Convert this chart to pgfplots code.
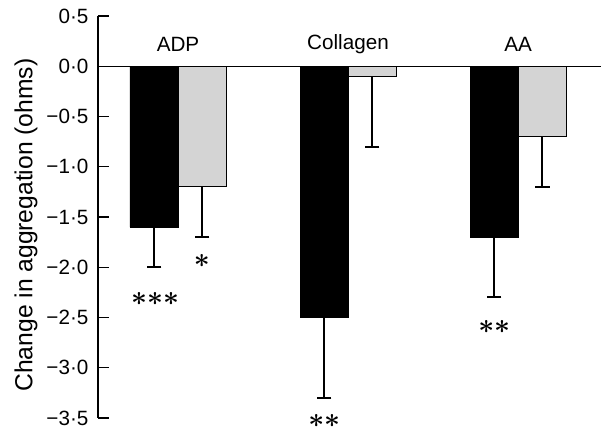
\documentclass[border=0pt]{standalone}
\usepackage{pgfplots}
\pgfplotsset{compat=1.18}
\usepackage{fontspec}
\setmainfont{Liberation Sans}
\usetikzlibrary{calc}
\tikzset{tl/.style={anchor=east, xshift=-7pt, font=\fontsize{15.5}{17}\selectfont, inner sep=0pt}}
\begin{document}
\begin{tikzpicture}[x=1pt,y=1pt]
\begin{axis}[
  name=ax,
  scale only axis,
  width=377.25pt, height=301.5pt,
  xmin=0.5294, xmax=3.488,
  ymin=-3.5, ymax=0.5,
  axis y line*=left,
  x axis line style={draw=none},
  xtick=\empty,
  ytick={-3.5,-3,-2.5,-2,-1.5,-1,-0.5,0,0.5},
  yticklabels={},
  ytick align=inside,
  major tick length=8pt,
  tick style={line width=1pt, black},
  y axis line style={line width=1pt},
  extra y ticks={0},
  extra y tick labels={},
  extra y tick style={major tick length=0pt, grid=major, major grid style={black, line width=1pt}},
  ylabel={Change in aggregation (ohms)},
  ylabel style={font=\fontsize{18.5}{20}\selectfont, at={(axis description cs:-0.143,0.48)}, anchor=center, rotate=0},
  ybar, bar width=0.2824, bar shift=0pt,
  clip=false,
]
\addplot[fill=black, draw=black,
  error bars/.cd, y dir=minus, y explicit,
  error bar style={line width=1.4pt},
  error mark options={rotate=90, mark size=5.6pt, line width=1.4pt}]
  coordinates {
  (0.8588,-1.6) -= (0,0.4)
  (1.8588,-2.5) -= (0,0.8)
  (2.8588,-1.7) -= (0,0.6)
};
\addplot[fill=black!17, draw=black, line width=0.6pt,
  error bars/.cd, y dir=minus, y explicit,
  error bar style={line width=1.4pt},
  error mark options={rotate=90, mark size=5.6pt, line width=1.4pt}]
  coordinates {
  (1.1412,-1.2) -= (0,0.5)
  (2.1412,-0.1) -= (0,0.7)
  (3.1412,-0.7) -= (0,0.5)
};
\node[tl] at (axis cs:0.5294,0.5) {0·5};
\node[tl] at (axis cs:0.5294,0) {0·0};
\node[tl] at (axis cs:0.5294,-0.5) {−0·5};
\node[tl] at (axis cs:0.5294,-1) {−1·0};
\node[tl] at (axis cs:0.5294,-1.5) {−1·5};
\node[tl] at (axis cs:0.5294,-2) {−2·0};
\node[tl] at (axis cs:0.5294,-2.5) {−2·5};
\node[tl] at (axis cs:0.5294,-3) {−3·0};
\node[tl] at (axis cs:0.5294,-3.5) {−3·5};
\node[font=\fontsize{15.5}{17}\selectfont] at (axis cs:1,0.22) {ADP};
\node[font=\fontsize{15.5}{17}\selectfont] at (axis cs:2,0.22) {Collagen};
\node[font=\fontsize{15.5}{17}\selectfont] at (axis cs:3,0.22) {AA};
\node[font=\fontsize{19.5}{21}\selectfont\boldmath] at (axis cs:0.865,-2.32) {${\ast}{\ast}{\ast}$};
\node[font=\fontsize{19.5}{21}\selectfont\boldmath] at (axis cs:1.14,-1.94) {${\ast}$};
\node[font=\fontsize{19.5}{21}\selectfont\boldmath] at (axis cs:1.86,-3.53) {${\ast}{\ast}$};
\node[font=\fontsize{19.5}{21}\selectfont\boldmath] at (axis cs:2.86,-2.59) {${\ast}{\ast}$};
\end{axis}
\pgfresetboundingbox
\path[use as bounding box] ($(ax.south west)+(-73.5pt,-9.75pt)$) rectangle ($(ax.north east)+(0pt,12pt)$);
\end{tikzpicture}
\end{document}
